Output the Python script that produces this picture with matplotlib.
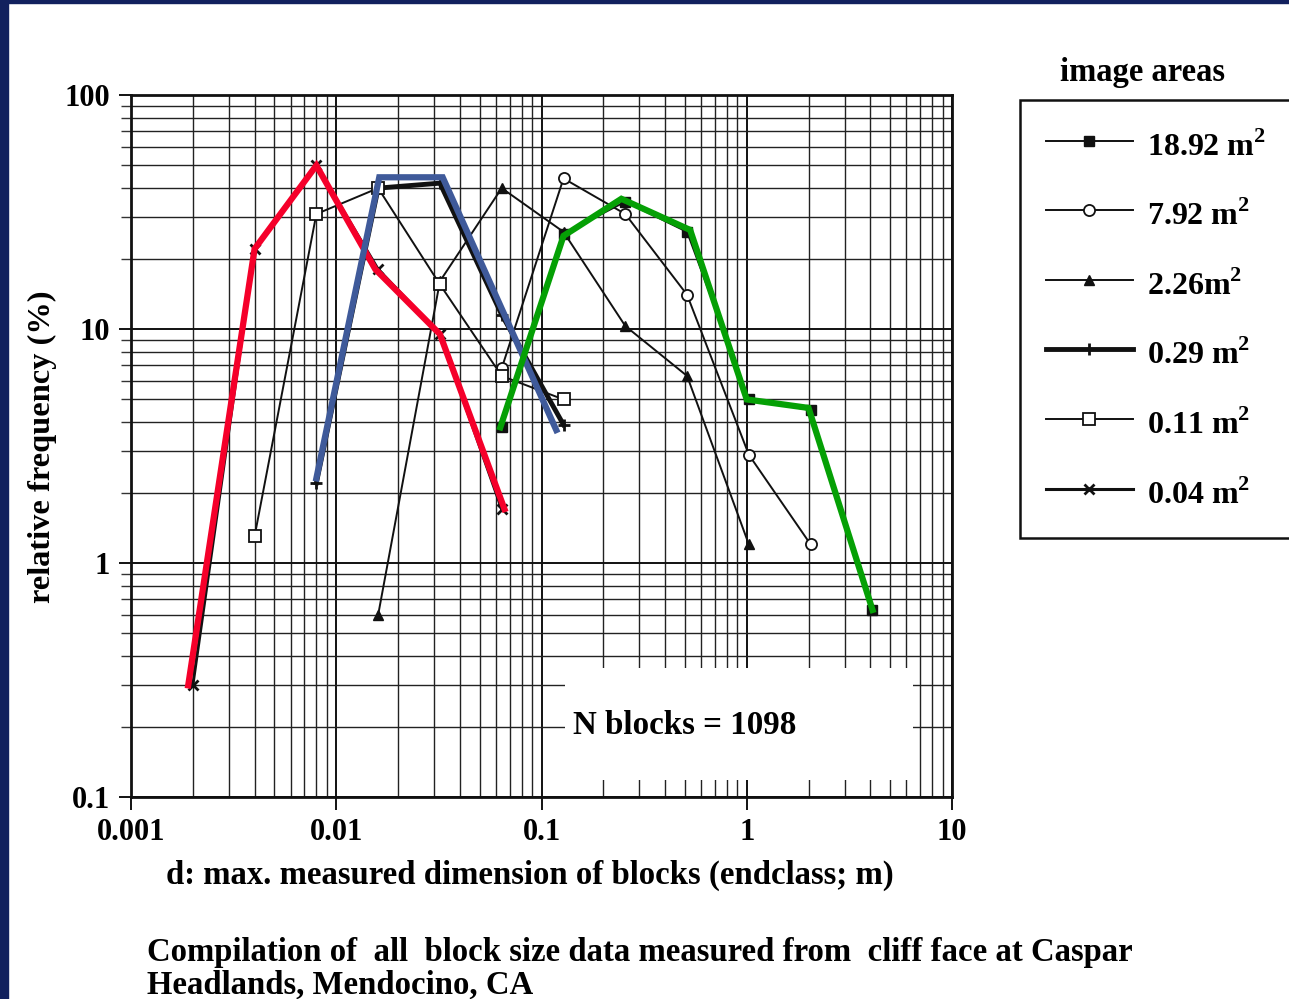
import matplotlib
matplotlib.use("Agg")
import matplotlib.pyplot as plt
from matplotlib.patches import Rectangle
from matplotlib.ticker import LogLocator, NullFormatter, FixedLocator, FixedFormatter

plt.rcParams['font.family'] = ['Liberation Serif', 'DejaVu Serif']
plt.rcParams['font.weight'] = 'bold'
plt.rcParams['mathtext.fontset'] = 'custom'
plt.rcParams['mathtext.rm'] = 'Liberation Serif:bold'
plt.rcParams['mathtext.bf'] = 'Liberation Serif:bold'

# ---- data (endclass sizes in m, relative frequency in %) ----
x_1892 = [0.064, 0.128, 0.256, 0.512, 1.024, 2.048, 4.096]
y_1892 = [3.8, 25.5, 35.0, 26.0, 5.0, 4.5, 0.63]

x_792 = [0.064, 0.128, 0.256, 0.512, 1.024, 2.048]
y_792 = [6.8, 44.0, 31.0, 14.0, 2.9, 1.2]

x_226 = [0.016, 0.032, 0.064, 0.128, 0.256, 0.512, 1.024]
y_226 = [0.6, 16.0, 40.0, 26.0, 10.3, 6.3, 1.2]

x_029 = [0.008, 0.016, 0.032, 0.064, 0.128]
y_029 = [2.2, 40.0, 42.0, 11.5, 3.9]

x_011 = [0.004, 0.008, 0.016, 0.032, 0.064, 0.128]
y_011 = [1.3, 31.0, 40.0, 15.5, 6.3, 5.0]

x_004 = [0.002, 0.004, 0.008, 0.016, 0.032, 0.064]
y_004 = [0.3, 22.0, 50.0, 18.0, 9.5, 1.7]

# coloured highlight traces drawn over the original figure
red_x = [0.0019, 0.004, 0.008, 0.0155, 0.032, 0.066]
red_y = [0.3, 22.0, 50.0, 18.0, 9.5, 1.7]
blue_x = [0.008, 0.0162, 0.033, 0.118]
blue_y = [2.3, 44.5, 44.5, 3.7]
green_x = [0.063, 0.128, 0.245, 0.53, 1.0, 2.0, 4.1]
green_y = [3.8, 25.0, 36.0, 26.5, 5.0, 4.6, 0.63]

legend_labels = ['18.92 m$^{2}$', '7.92 m$^{2}$', '2.26m$^{2}$',
                 '0.29 m$^{2}$', '0.11 m$^{2}$', '0.04 m$^{2}$']
xticks = [0.001, 0.01, 0.1, 1, 10]
xticklabels = ['0.001', '0.01', '0.1', '1', '10']
yticks = [0.1, 1, 10, 100]
yticklabels = ['0.1', '1', '10', '100']

W, H = 1289, 999
fig = plt.figure(figsize=(W / 100, H / 100), dpi=100)
fig.patch.set_facecolor('white')

# navy border of the slide
fig.patches.append(Rectangle((0, 0), 8 / W, 1, transform=fig.transFigure,
                             color='#12215e', zorder=0))
fig.patches.append(Rectangle((0, 1 - 3 / H), 1, 3 / H, transform=fig.transFigure,
                             color='#12215e', zorder=0))

L, R, T, B = 131, 952, 95, 797
ax = fig.add_axes([L / W, 1 - B / H, (R - L) / W, (B - T) / H])
ax.set_xscale('log')
ax.set_yscale('log')
ax.set_xlim(0.001, 10)
ax.set_ylim(0.1, 100)

ax.xaxis.set_major_locator(FixedLocator(xticks))
ax.xaxis.set_major_formatter(FixedFormatter(xticklabels))
ax.yaxis.set_major_locator(FixedLocator(yticks))
ax.yaxis.set_major_formatter(FixedFormatter(yticklabels))
ax.xaxis.set_minor_locator(LogLocator(base=10, subs=range(2, 10)))
ax.yaxis.set_minor_locator(LogLocator(base=10, subs=range(2, 10)))
ax.xaxis.set_minor_formatter(NullFormatter())
ax.yaxis.set_minor_formatter(NullFormatter())

ax.grid(True, which='major', color='#111111', lw=1.4)
ax.grid(True, which='minor', color='#222222', lw=1.0)
ax.tick_params(which='major', direction='out', length=9, width=1.3, labelsize=22, pad=6)
ax.tick_params(axis='x', which='minor', length=0)
ax.tick_params(axis='y', which='minor', direction='out', length=7, width=1.0, color='#333333')
for lab in ax.get_xticklabels() + ax.get_yticklabels():
    lab.set_fontweight('bold')
for s in ax.spines.values():
    s.set_linewidth(2.0)
    s.set_color('#111111')
ax.set_axisbelow(True)

kw = dict(color='#111111', zorder=3)
h1, = ax.plot(x_1892, y_1892, '-', lw=1.4, marker='s', ms=7, mfc='#111111', **kw)
h2, = ax.plot(x_792, y_792, '-', lw=1.4, marker='o', ms=8, mfc='white', mew=1.3, **kw)
h3, = ax.plot(x_226, y_226, '-', lw=1.4, marker='^', ms=7, mfc='#111111', **kw)
h4, = ax.plot(x_029, y_029, '-', lw=3.5, marker='+', ms=9, mew=2, **kw)
h5, = ax.plot(x_011, y_011, '-', lw=1.4, marker='s', ms=8, mfc='white', mew=1.3, **kw)
h6, = ax.plot(x_004, y_004, '-', lw=2.2, marker='x', ms=7, mew=2, **kw)

ax.plot(red_x, red_y, '-', color='#f5002a', lw=4.5, zorder=4, solid_joinstyle='miter')
ax.plot(blue_x, blue_y, '-', color='#3f5a9a', lw=4.5, zorder=4, solid_joinstyle='miter')
ax.plot(green_x, green_y, '-', color='#05a005', lw=4.5, zorder=4, solid_joinstyle='miter')

# N blocks box
bx0 = (565 - L) / (R - L); bx1 = (913 - L) / (R - L)
by0 = (B - 780) / (B - T); by1 = (B - 668) / (B - T)
ax.add_patch(Rectangle((bx0, by0), bx1 - bx0, by1 - by0, transform=ax.transAxes,
                       facecolor='white', edgecolor='none', zorder=2.5))
ax.text((573 - L) / (R - L), (B - 725) / (B - T), 'N blocks = 1098', transform=ax.transAxes,
        ha='left', va='center', fontsize=23.8, fontweight='bold', zorder=5)

ax.set_xlabel('d: max. measured dimension of blocks (endclass; m)', fontsize=23.6,
              fontweight='bold', va='center', ha='center')
ax.xaxis.set_label_coords((530 - L) / (R - L), (B - 875) / (B - T))
ax.set_ylabel('relative frequency (%)', fontsize=23.3, fontweight='bold',
              va='center', ha='center')
ax.yaxis.set_label_coords((42 - L) / (R - L), (B - 447) / (B - T))

# legend
fig.text(1143 / W, 1 - 73 / H, 'image areas', ha='center', va='center',
         fontsize=23.5, fontweight='bold')
leg = fig.legend([h1, h2, h3, h4, h5, h6], legend_labels,
                 loc='upper left', bbox_to_anchor=(1020 / W, 0, 0.3, 1 - 100 / H),
                 mode='expand', frameon=True, fancybox=False, framealpha=1,
                 edgecolor='#111111', fontsize=23, handlelength=2.75,
                 handleheight=1.5, handletextpad=0.44, borderpad=0.8,
                 labelspacing=0.96, borderaxespad=0, numpoints=1)
leg.get_frame().set_linewidth(1.8)

# caption
fig.text(147 / W, 1 - 953 / H, 'Compilation of  all  block size data measured from  cliff face at Caspar',
         ha='left', va='center', fontsize=23.6, fontweight='bold')
fig.text(147 / W, 1 - 985 / H, 'Headlands, Mendocino, CA',
         ha='left', va='center', fontsize=23.6, fontweight='bold')

fig.savefig('out.png', dpi=100, facecolor='white')
